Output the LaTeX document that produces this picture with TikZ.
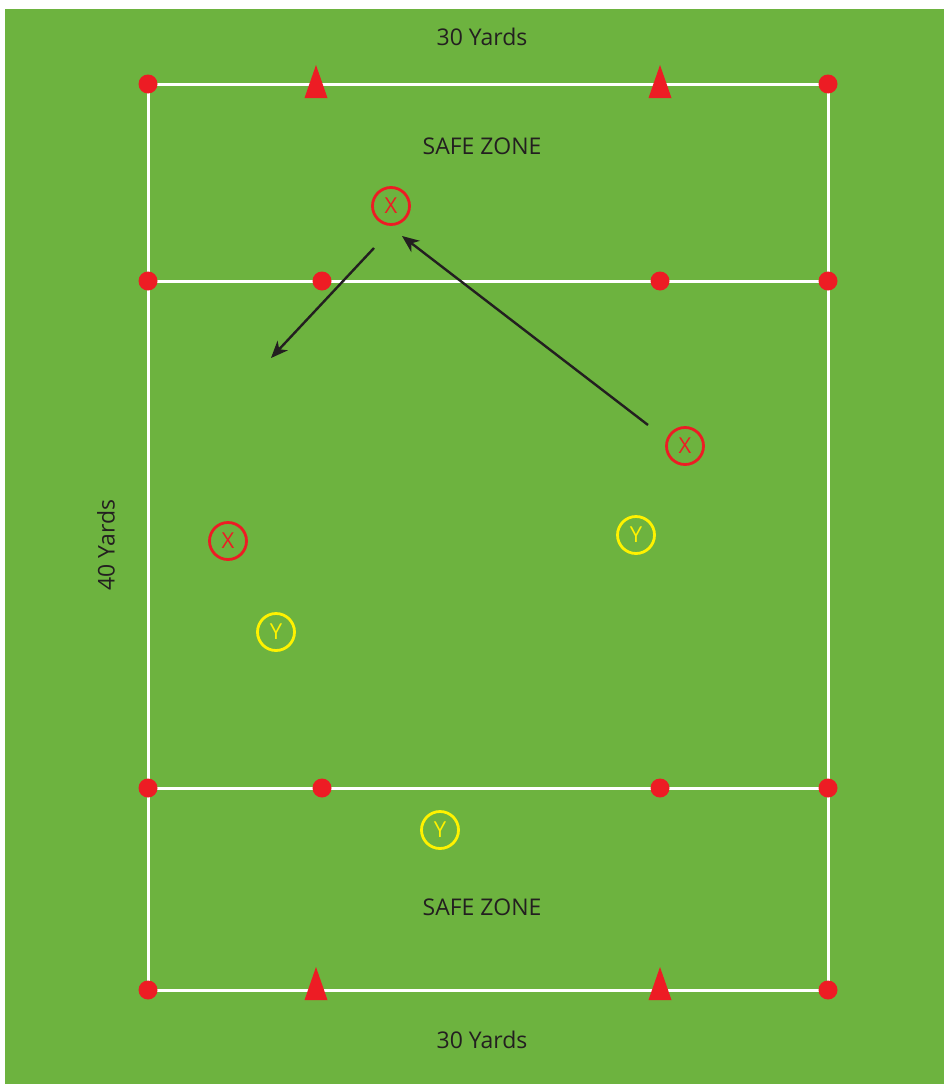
\documentclass[tikz,border=0pt]{standalone}
\usepackage{fontspec}
\setmainfont{Open Sans}
\usetikzlibrary{arrows.meta}
\definecolor{field}{HTML}{6DB33F}
\definecolor{cone}{HTML}{ED1C24}
\definecolor{ply}{HTML}{FFF200}
\definecolor{ink}{HTML}{231F20}
\tikzset{
  fieldline/.style={draw=white, line width=3pt},
  dot/.style={circle, fill=cone, minimum size=19pt, inner sep=0pt},
  conetri/.style={fill=cone, draw=none},
  xplayer/.style={circle, draw=cone, line width=2.8pt, minimum size=37pt, inner sep=0pt, text=cone, font=\fontsize{22}{22}\selectfont},
  yplayer/.style={circle, draw=ply, line width=2.8pt, minimum size=37pt, inner sep=0pt, text=ply, font=\fontsize{22}{22}\selectfont},
  lbl/.style={text=ink, font=\fontsize{23}{23}\selectfont},
  run/.style={draw=ink, line width=2.4pt, -{Stealth[length=17pt, width=14pt, inset=5pt]}},
}
\begin{document}
\begin{tikzpicture}[x=1pt, y=-1pt]
\useasboundingbox (0,0) rectangle (944,1084);
\fill[white] (0,0) rectangle (944,1084);
\fill[field] (5,9) rectangle (944,1084);
% field lines
\draw[fieldline] (148,84) rectangle (828,990);
\draw[fieldline] (148,281) -- (828,281);
\draw[fieldline] (148,788) -- (828,788);
% dots
\foreach \n/\x/\y in {a/148/84, b/828/84, c/148/281, d/322/281, e/660/281, f/828/281, g/148/788, h/322/788, i/660/788, j/828/788, k/148/990, l/828/990}
  \node[dot] (dot\n) at (\x,\y) {};
% cones
\foreach \x/\y in {316/65, 660/65, 316/967, 660/967}
  \fill[conetri] (\x,\y) -- (\x+11.5,\y+33) -- (\x-11.5,\y+33) -- cycle;
% texts
\node[lbl] (top) at (482,37) {30 Yards};
\node[lbl] (bot) at (482,1040) {30 Yards};
\node[lbl] (safe1) at (482,146) {SAFE ZONE};
\node[lbl] (safe2) at (482,907) {SAFE ZONE};
\node[lbl, rotate=90] (side) at (106,545) {40 Yards};
% players
\node[xplayer] (x1) at (391,206) {X};
\node[xplayer] (x2) at (685,446) {X};
\node[xplayer] (x3) at (228,541) {X};
\node[yplayer] (y1) at (636,535) {Y};
\node[yplayer] (y2) at (276,632) {Y};
\node[yplayer] (y3) at (440,830) {Y};
% runs
\coordinate (r1s) at (374,248);
\coordinate (r1e) at (271,358);
\coordinate (r2s) at (648,425);
\coordinate (r2e) at (402,236);
\draw[run] (r1s) -- (r1e);
\draw[run] (r2s) -- (r2e);
\end{tikzpicture}
\end{document}
